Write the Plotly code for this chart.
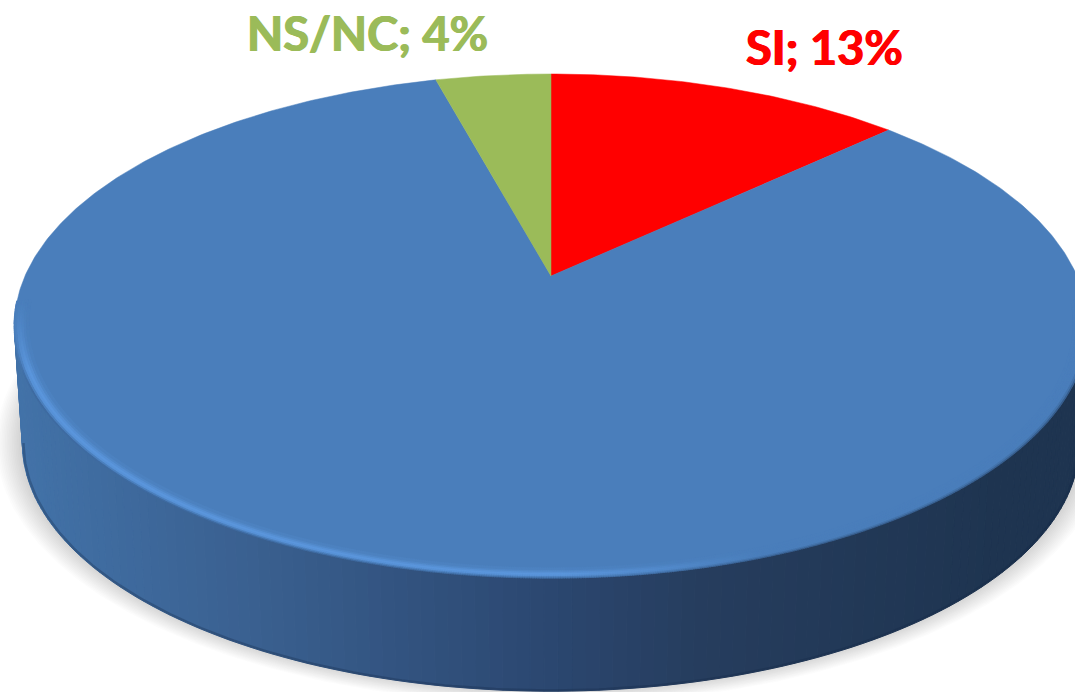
import numpy as np
import plotly.graph_objects as go

# Data (clockwise from 12 o'clock)
categories = ["SI", "NO", "NS/NC"]
shares = [13.0, 82.8, 4.2]
slice_colors = ["#ff0000", "#4a7ebb", "#9bbb59"]
label_texts = ["SI; 13%", "", "NS/NC; 4%"]

W, H = 1075, 692
CX, CY, RX, RY, PERSP = 551.0, 276.0, 526.0, 242.0, 0.198
DEPTH, BOTTOM_SCALE = 118.0, 0.985


def project(theta, r=1.0, scale=1.0, dy=0.0):
    """Clockwise angle from the top of the disc to page position."""
    u, v = r * np.sin(theta), r * np.cos(theta)
    d = 1 + PERSP * v
    return CX + scale * RX * u / d, CY + dy - scale * RY * v / d


def hexrgb(c):
    return np.array([int(c[i:i + 2], 16) for i in (1, 3, 5)], float)


def css(rgb):
    return "rgb(%d,%d,%d)" % tuple(np.clip(np.round(rgb), 0, 255))


SIDE_X = [20, 250, 550, 700, 1000, 1090]
SIDE_C = [hexrgb(c) for c in ["#4272a8", "#3a6090", "#2b4770", "#263d5e", "#1e3450", "#1e3450"]]


def side_color(x):
    return css(np.array([np.interp(x, SIDE_X, [c[i] for c in SIDE_C]) for i in range(3)]))


fig = go.Figure()

# soft shadow under the disc
th_all = np.linspace(0, 2 * np.pi, 360)
for grow in np.linspace(26, 0, 16):
    k = grow / 530.0
    x, y = project(th_all, 1.0, BOTTOM_SCALE + k, DEPTH - 2)
    fig.add_trace(go.Scatter(x=x, y=y, mode="lines", line=dict(width=0), fill="toself",
                             fillcolor="rgba(90,90,90,0.02)", hoverinfo="skip"))

# wall of the disc, in narrow vertical strips
angles = np.linspace(np.pi / 2 + np.arcsin(PERSP), 3 * np.pi / 2 - np.arcsin(PERSP), 130)
for a0, a1 in zip(angles[:-1], angles[1:]):
    xa, ya = project(np.array([a0, a1]))
    xb, yb = project(np.array([a1, a0]), 1.0, BOTTOM_SCALE, DEPTH)
    xs = np.r_[xa, xb, xa[0]]
    ys = np.r_[ya, yb, ya[0]]
    col = side_color(xs.mean())
    fig.add_trace(go.Scatter(x=xs, y=ys, mode="lines", line=dict(width=1, color=col),
                             fill="toself", fillcolor=col, hoverinfo="skip"))

# darker seam along the bottom of the wall
bx, by = project(np.linspace(angles[0], angles[-1], 240), 0.998, BOTTOM_SCALE, DEPTH)
fig.add_trace(go.Scatter(x=bx, y=by, mode="lines", line=dict(width=2.5, color="rgba(20,40,70,0.3)"),
                         hoverinfo="skip"))

# slices of the top face, from the shares
start = 0.0
total = sum(shares)
for name, share, color in zip(categories, shares, slice_colors):
    end = start + 2 * np.pi * share / total
    t = np.linspace(start, end, max(8, int(share * 6)))
    x, y = project(t)
    fig.add_trace(go.Scatter(x=np.r_[CX, x, CX], y=np.r_[CY, y, CY], mode="lines", name=name,
                             line=dict(width=0.5, color=color), fill="toself", fillcolor=color,
                             hovertemplate=name + ": %{customdata}%<extra></extra>",
                             customdata=[share] * (len(t) + 2)))
    start = end

# bevel on the near rim of the blue slice
TOP = hexrgb("#4a7ebb")
HILITE = hexrgb("#5b96dc")
DARK = hexrgb("#22395a")
ring_t = np.linspace(np.radians(96), np.radians(264), 800)
rings = [(0.9985, 0.45, 0.0), (0.9955, 0.15, 0.35), (0.992, 0.0, 0.85), (0.988, 0.0, 1.0),
         (0.984, 0.0, 0.75), (0.980, 0.0, 0.4), (0.976, 0.0, 0.15)]
for r, dark_w, hi_w in rings:
    x, y = project(ring_t, r)
    hi = np.clip((760 - x) / 200, 0, 1) * np.clip((y - 300) / 70, 0, 1)
    dk = np.clip((y - 330) / 60, 0, 1) * np.maximum(np.clip((x - 500) / 300, 0, 1), 0.6 * hi)
    colors = [css(TOP + (HILITE - TOP) * hi_w * h + (DARK - TOP) * dark_w * d)
              for h, d in zip(hi, dk)]
    fig.add_trace(go.Scatter(x=x, y=y, mode="markers", hoverinfo="skip",
                             marker=dict(size=3.2, color=colors, line=dict(width=0))))

# data labels
label_pos = [(824, 47), None, (367, 33)]
for text, color, pos in zip(label_texts, slice_colors, label_pos):
    if text:
        fig.add_annotation(x=pos[0], y=pos[1], text="<b>%s</b>" % text, showarrow=False,
                           font=dict(family="Lato, Carlito, sans-serif", size=47, color=color,
                                     shadow="0.7px 0 0 %s, -0.7px 0 0 %s" % (color, color)),
                           xanchor="center", yanchor="middle")

fig.update_layout(width=W, height=H, margin=dict(l=0, r=0, t=0, b=0), showlegend=False,
                  paper_bgcolor="white", plot_bgcolor="white",
                  xaxis=dict(range=[0, W], visible=False, fixedrange=True),
                  yaxis=dict(range=[H, 0], visible=False, fixedrange=True))
fig.write_html("out.html", config=dict(displayModeBar=False),
               post_script="document.body.style.margin='0';document.body.style.overflow='hidden';")
